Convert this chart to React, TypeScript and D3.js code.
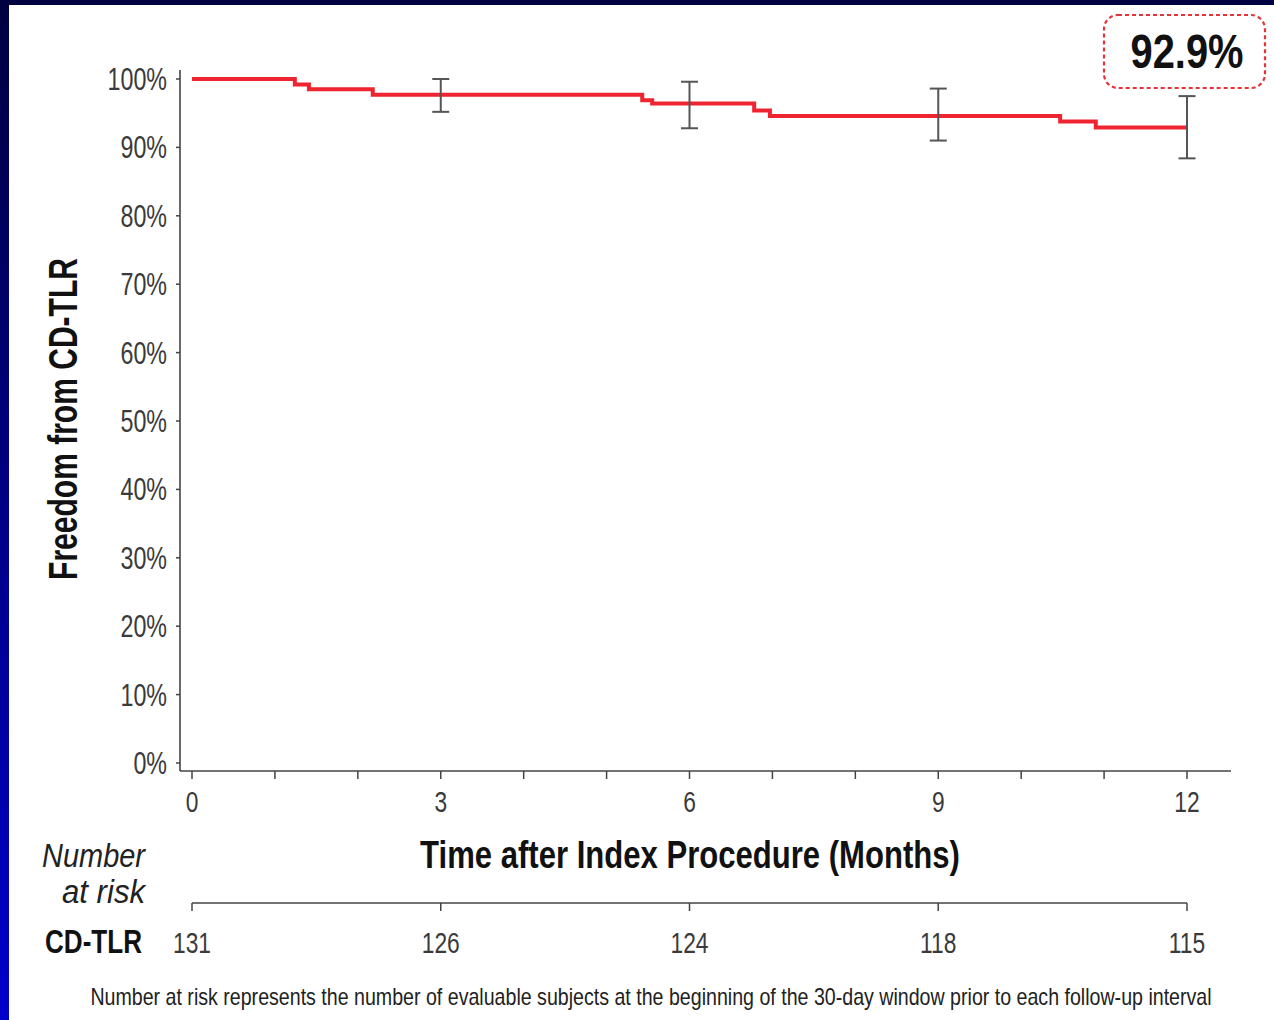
import { useLayoutEffect, useRef } from "react";
import * as d3 from "d3";

// Kaplan-Meier steps (months, % free from CD-TLR)
const kmTimes = [0, 1.24, 1.41, 2.18, 5.43, 5.55, 6.78, 6.97, 10.47, 10.9, 12];
const kmSurvival = [100, 99.2, 98.5, 97.7, 96.9, 96.4, 95.4, 94.6, 93.8, 92.9, 92.9];

// 95% CI whiskers at the follow-up visits
const ciMonths = [3, 6, 9, 12];
const ciLower = [95.2, 92.8, 91.0, 88.4];
const ciUpper = [100.0, 99.6, 98.6, 97.5];

const xMajorTicks = [0, 3, 6, 9, 12];
const xMinorTicks = d3.range(0, 13);
const yTicks = d3.range(0, 101, 10);

const riskMonths = [0, 3, 6, 9, 12];
const riskCounts = [131, 126, 124, 118, 115];

const finalLabel = "92.9%";

const width = 1274;
const height = 1020;

const sans = "'Liberation Sans', Arial, sans-serif";

export default function App() {
  const svgRef = useRef<SVGSVGElement>(null);

  const x = d3.scaleLinear([0, 12], [192, 1187]);
  const y = d3.scaleLinear([0, 100], [763, 79]);

  const kmData = kmTimes.map((t, i) => ({ t, s: kmSurvival[i] }));
  const line = d3
    .line<{ t: number; s: number }>()
    .x((d) => x(d.t))
    .y((d) => y(d.s))
    .curve(d3.curveStepAfter);

  // squeeze texts horizontally to mimic the condensed typeface of the original
  useLayoutEffect(() => {
    const svg = d3.select(svgRef.current);
    svg.selectAll<SVGTextElement, unknown>("text[data-squeeze], text[data-width]").each(function () {
      const w = this.getComputedTextLength();
      const target = this.getAttribute("data-width");
      const s = target ? +target / w : +(this.getAttribute("data-squeeze") || 1);
      const base = this.getAttribute("data-base") || "";
      const ax = +(this.getAttribute("x") || 0);
      this.setAttribute("transform", `${base} translate(${ax},0) scale(${s},1) translate(${-ax},0)`);
    });
  }, []);

  const tickColor = "#3a3a3a";
  const axisColor = "#444";

  return (
    <div>
      <style>{`body{margin:0}`}</style>
      <svg ref={svgRef} width={width} height={height} style={{ display: "block", fontFamily: sans }}>
        <defs>
          <linearGradient id="bg" x1="0" y1="0" x2="0" y2="1">
            <stop offset="0" stopColor="#000040" />
            <stop offset="1" stopColor="#0000cc" />
          </linearGradient>
        </defs>
        <rect x={0} y={0} width={width} height={height} fill="url(#bg)" />
        <rect x={9} y={5} width={width - 9} height={height - 5} fill="#fff" />

        {/* y axis */}
        <line x1={180} x2={180} y1={70} y2={771} stroke={axisColor} strokeWidth={1.6} />
        {yTicks.map((t) => (
          <g key={t}>
            <line x1={176} x2={180} y1={y(t)} y2={y(t)} stroke={axisColor} strokeWidth={1.5} />
            <text
              x={167}
              y={y(t) + 11}
              textAnchor="end"
              fontSize={31}
              fill={tickColor}
              data-squeeze={0.75}
            >
              {t}%
            </text>
          </g>
        ))}
        <text
          x={0}
          y={0}
          data-base="translate(77,419) rotate(-90)"
          transform="translate(77,419) rotate(-90)"
          textAnchor="middle"
          fontSize={41}
          fontWeight="bold"
          fill="#111"
          data-width={322}
        >
          Freedom from CD-TLR
        </text>

        {/* x axis */}
        <line x1={180} x2={1231} y1={771} y2={771} stroke={axisColor} strokeWidth={1.6} />
        {xMinorTicks.map((t) => (
          <line key={t} x1={x(t)} x2={x(t)} y1={771} y2={779} stroke={axisColor} strokeWidth={1.5} />
        ))}
        {xMajorTicks.map((t) => (
          <text
            key={t}
            x={x(t)}
            y={812}
            textAnchor="middle"
            fontSize={30}
            fill={tickColor}
            data-squeeze={0.76}
          >
            {t}
          </text>
        ))}
        <text x={690} y={868} textAnchor="middle" fontSize={38} fontWeight="bold" fill="#111" data-width={540}>
          Time after Index Procedure (Months)
        </text>

        {/* KM curve */}
        <path d={line(kmData) || ""} fill="none" stroke="#ee2530" strokeWidth={4} />

        {/* CI whiskers */}
        {ciMonths.map((m, i) => (
          <g key={m} stroke="#555" strokeWidth={2}>
            <line x1={x(m)} x2={x(m)} y1={y(ciUpper[i])} y2={y(ciLower[i])} />
            <line x1={x(m) - 8.5} x2={x(m) + 8.5} y1={y(ciUpper[i])} y2={y(ciUpper[i])} />
            <line x1={x(m) - 8.5} x2={x(m) + 8.5} y1={y(ciLower[i])} y2={y(ciLower[i])} />
          </g>
        ))}

        {/* final estimate callout */}
        <rect
          x={1104}
          y={15}
          width={161}
          height={73}
          rx={14}
          fill="none"
          stroke="#e4343a"
          strokeWidth={2.2}
          strokeDasharray="4 3"
        />
        <text x={x(12)} y={68} textAnchor="middle" fontSize={48} fontWeight="bold" fill="#111" data-width={113}>
          {finalLabel}
        </text>

        {/* number at risk */}
        <text x={145} y={867} textAnchor="end" fontSize={34} fontStyle="italic" fill="#222" data-width={103}>
          Number
        </text>
        <text x={145} y={903} textAnchor="end" fontSize={34} fontStyle="italic" fill="#222" data-width={83}>
          at risk
        </text>
        <line x1={x(0)} x2={x(12)} y1={903} y2={903} stroke={axisColor} strokeWidth={1.6} />
        {riskMonths.map((m) => (
          <line key={m} x1={x(m)} x2={x(m)} y1={903} y2={911} stroke={axisColor} strokeWidth={1.5} />
        ))}
        <text x={142} y={953} textAnchor="end" fontSize={34} fontWeight="bold" fill="#111" data-width={97}>
          CD-TLR
        </text>
        {riskCounts.map((c, i) => (
          <text
            key={i}
            x={x(riskMonths[i])}
            y={953}
            textAnchor="middle"
            fontSize={30}
            fill={tickColor}
            data-squeeze={0.76}
          >
            {c}
          </text>
        ))}

        <text x={651} y={1005} textAnchor="middle" fontSize={23} fill="#222" data-width={1122}>
          Number at risk represents the number of evaluable subjects at the beginning of the 30-day window prior to each follow-up interval
        </text>
      </svg>
    </div>
  );
}
